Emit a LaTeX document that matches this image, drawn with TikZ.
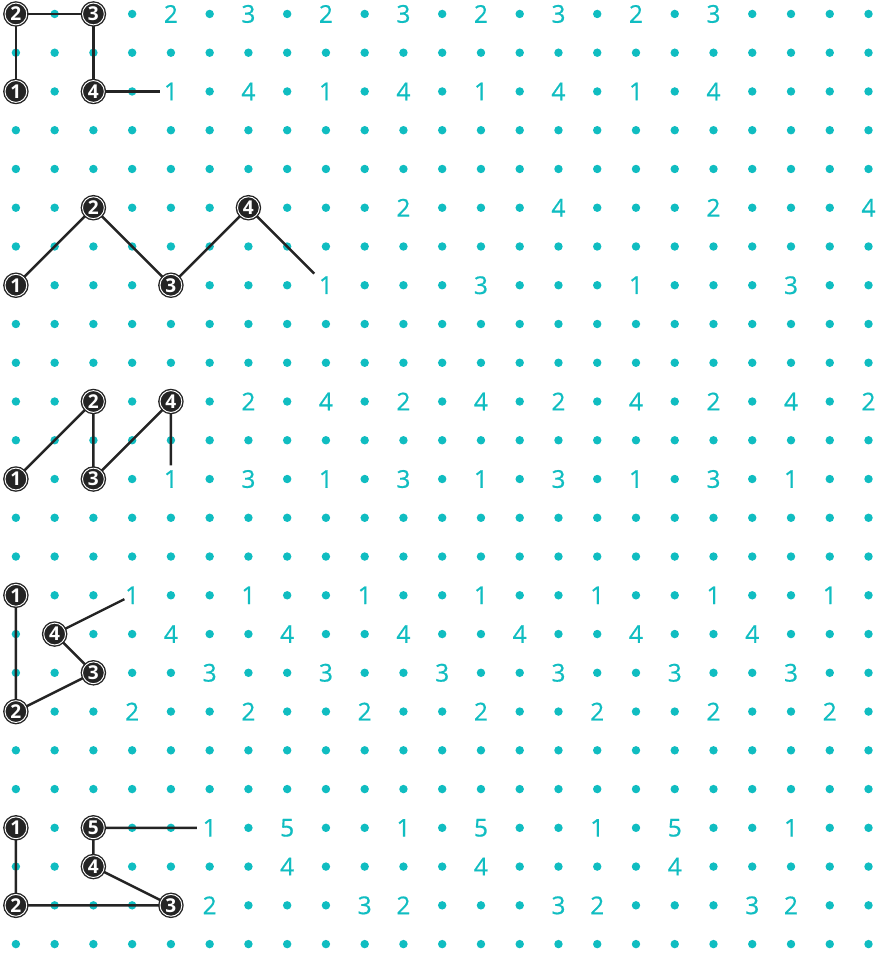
\documentclass[tikz,border=0pt]{standalone}
\usepackage{fontspec}
\setmainfont{Open Sans}
\newfontfamily\tealfont[FakeBold=0.6]{Open Sans}
\definecolor{tealdot}{RGB}{16,189,193}
\definecolor{ink}{RGB}{36,36,36}
\tikzset{
  griddot/.style={fill=tealdot},
  numlabel/.style={text=tealdot, font=\tealfont\fontsize{9}{9}\selectfont, inner sep=0.3pt},
  bnode/.style={circle, fill=ink, draw=ink, double=white, double distance=0.35pt,
    line width=0.5pt, minimum size=8pt, inner sep=0pt, text=white,
    font=\bfseries\fontsize{7}{7}\selectfont},
  link/.style={draw=ink, line width=0.9pt},
}
\def\dotchar{.}
\def\nodechar{n}
\newcommand\gridrow[2]{%
  \foreach \v [count=\c from 0] in {#2} {%
    \ifx\v\dotchar
      \fill[griddot] (\c,#1) circle[radius=1.55pt];
    \else\ifx\v\nodechar\else
      \node[numlabel] (t#1-\c) at (\c,#1) {\v};
    \fi\fi
  }}
\newcommand\dotrow[1]{%
  \foreach \c in {0,...,22} {\fill[griddot] (\c,#1) circle[radius=1.55pt];}}
\begin{document}
\begin{tikzpicture}[x=0.5cm,y=-0.5cm]
\useasboundingbox (-0.41,-0.36) rectangle (22.38,24.23);
% pattern A
\gridrow{0}{n,.,n,.,2,.,3,.,2,.,3,.,2,.,3,.,2,.,3,.,.,.,.}
\dotrow{1}
\gridrow{2}{n,.,n,.,1,.,4,.,1,.,4,.,1,.,4,.,1,.,4,.,.,.,.}
\dotrow{3}
\dotrow{4}
% pattern B
\gridrow{5}{.,.,n,.,.,.,n,.,.,.,2,.,.,.,4,.,.,.,2,.,.,.,4}
\dotrow{6}
\gridrow{7}{n,.,.,.,n,.,.,.,1,.,.,.,3,.,.,.,1,.,.,.,3,.,.}
\dotrow{8}
\dotrow{9}
% pattern C
\gridrow{10}{.,.,n,.,n,.,2,.,4,.,2,.,4,.,2,.,4,.,2,.,4,.,2}
\dotrow{11}
\gridrow{12}{n,.,n,.,1,.,3,.,1,.,3,.,1,.,3,.,1,.,3,.,1,.,.}
\dotrow{13}
\dotrow{14}
% pattern D
\gridrow{15}{n,.,.,1,.,.,1,.,.,1,.,.,1,.,.,1,.,.,1,.,.,1,.}
\gridrow{16}{.,n,.,.,4,.,.,4,.,.,4,.,.,4,.,.,4,.,.,4,.,.,.}
\gridrow{17}{.,.,n,.,.,3,.,.,3,.,.,3,.,.,3,.,.,3,.,.,3,.,.}
\gridrow{18}{n,.,.,2,.,.,2,.,.,2,.,.,2,.,.,2,.,.,2,.,.,2,.}
\dotrow{19}
\dotrow{20}
% pattern E
\gridrow{21}{n,.,n,.,.,1,.,5,.,.,1,.,5,.,.,1,.,5,.,.,1,.,.}
\gridrow{22}{.,.,n,.,.,.,.,4,.,.,.,.,4,.,.,.,.,4,.,.,.,.,.}
\gridrow{23}{n,.,.,.,n,2,.,.,.,3,2,.,.,.,3,2,.,.,.,3,2,.,.}
\dotrow{24}
% black nodes
\node[bnode] (a1) at (0,2) {1};
\node[bnode] (a2) at (0,0) {2};
\node[bnode] (a3) at (2,0) {3};
\node[bnode] (a4) at (2,2) {4};
\coordinate (aend) at (3.72,2);
\node[bnode] (b1) at (0,7) {1};
\node[bnode] (b2) at (2,5) {2};
\node[bnode] (b3) at (4,7) {3};
\node[bnode] (b4) at (6,5) {4};
\coordinate (bend) at (7.7,6.7);
\node[bnode] (c1) at (0,12) {1};
\node[bnode] (c2) at (2,10) {2};
\node[bnode] (c3) at (2,12) {3};
\node[bnode] (c4) at (4,10) {4};
\coordinate (cend) at (4,11.65);
\node[bnode] (d1) at (0,15) {1};
\node[bnode] (d2) at (0,18) {2};
\node[bnode] (d3) at (2,17) {3};
\node[bnode] (d4) at (1,16) {4};
\coordinate (dend) at (2.8,15.1);
\node[bnode] (e1) at (0,21) {1};
\node[bnode] (e2) at (0,23) {2};
\node[bnode] (e3) at (4,23) {3};
\node[bnode] (e4) at (2,22) {4};
\node[bnode] (e5) at (2,21) {5};
\coordinate (eend) at (4.67,21);
% connectors
\draw[link] (a1) -- (a2) -- (a3) -- (a4) -- (aend);
\draw[link] (b1) -- (b2) -- (b3) -- (b4) -- (bend);
\draw[link] (c1) -- (c2) -- (c3) -- (c4) -- (cend);
\draw[link] (d1) -- (d2) -- (d3) -- (d4) -- (dend);
\draw[link] (e1) -- (e2) -- (e3) -- (e4) -- (e5) -- (eend);
\end{tikzpicture}
\end{document}
